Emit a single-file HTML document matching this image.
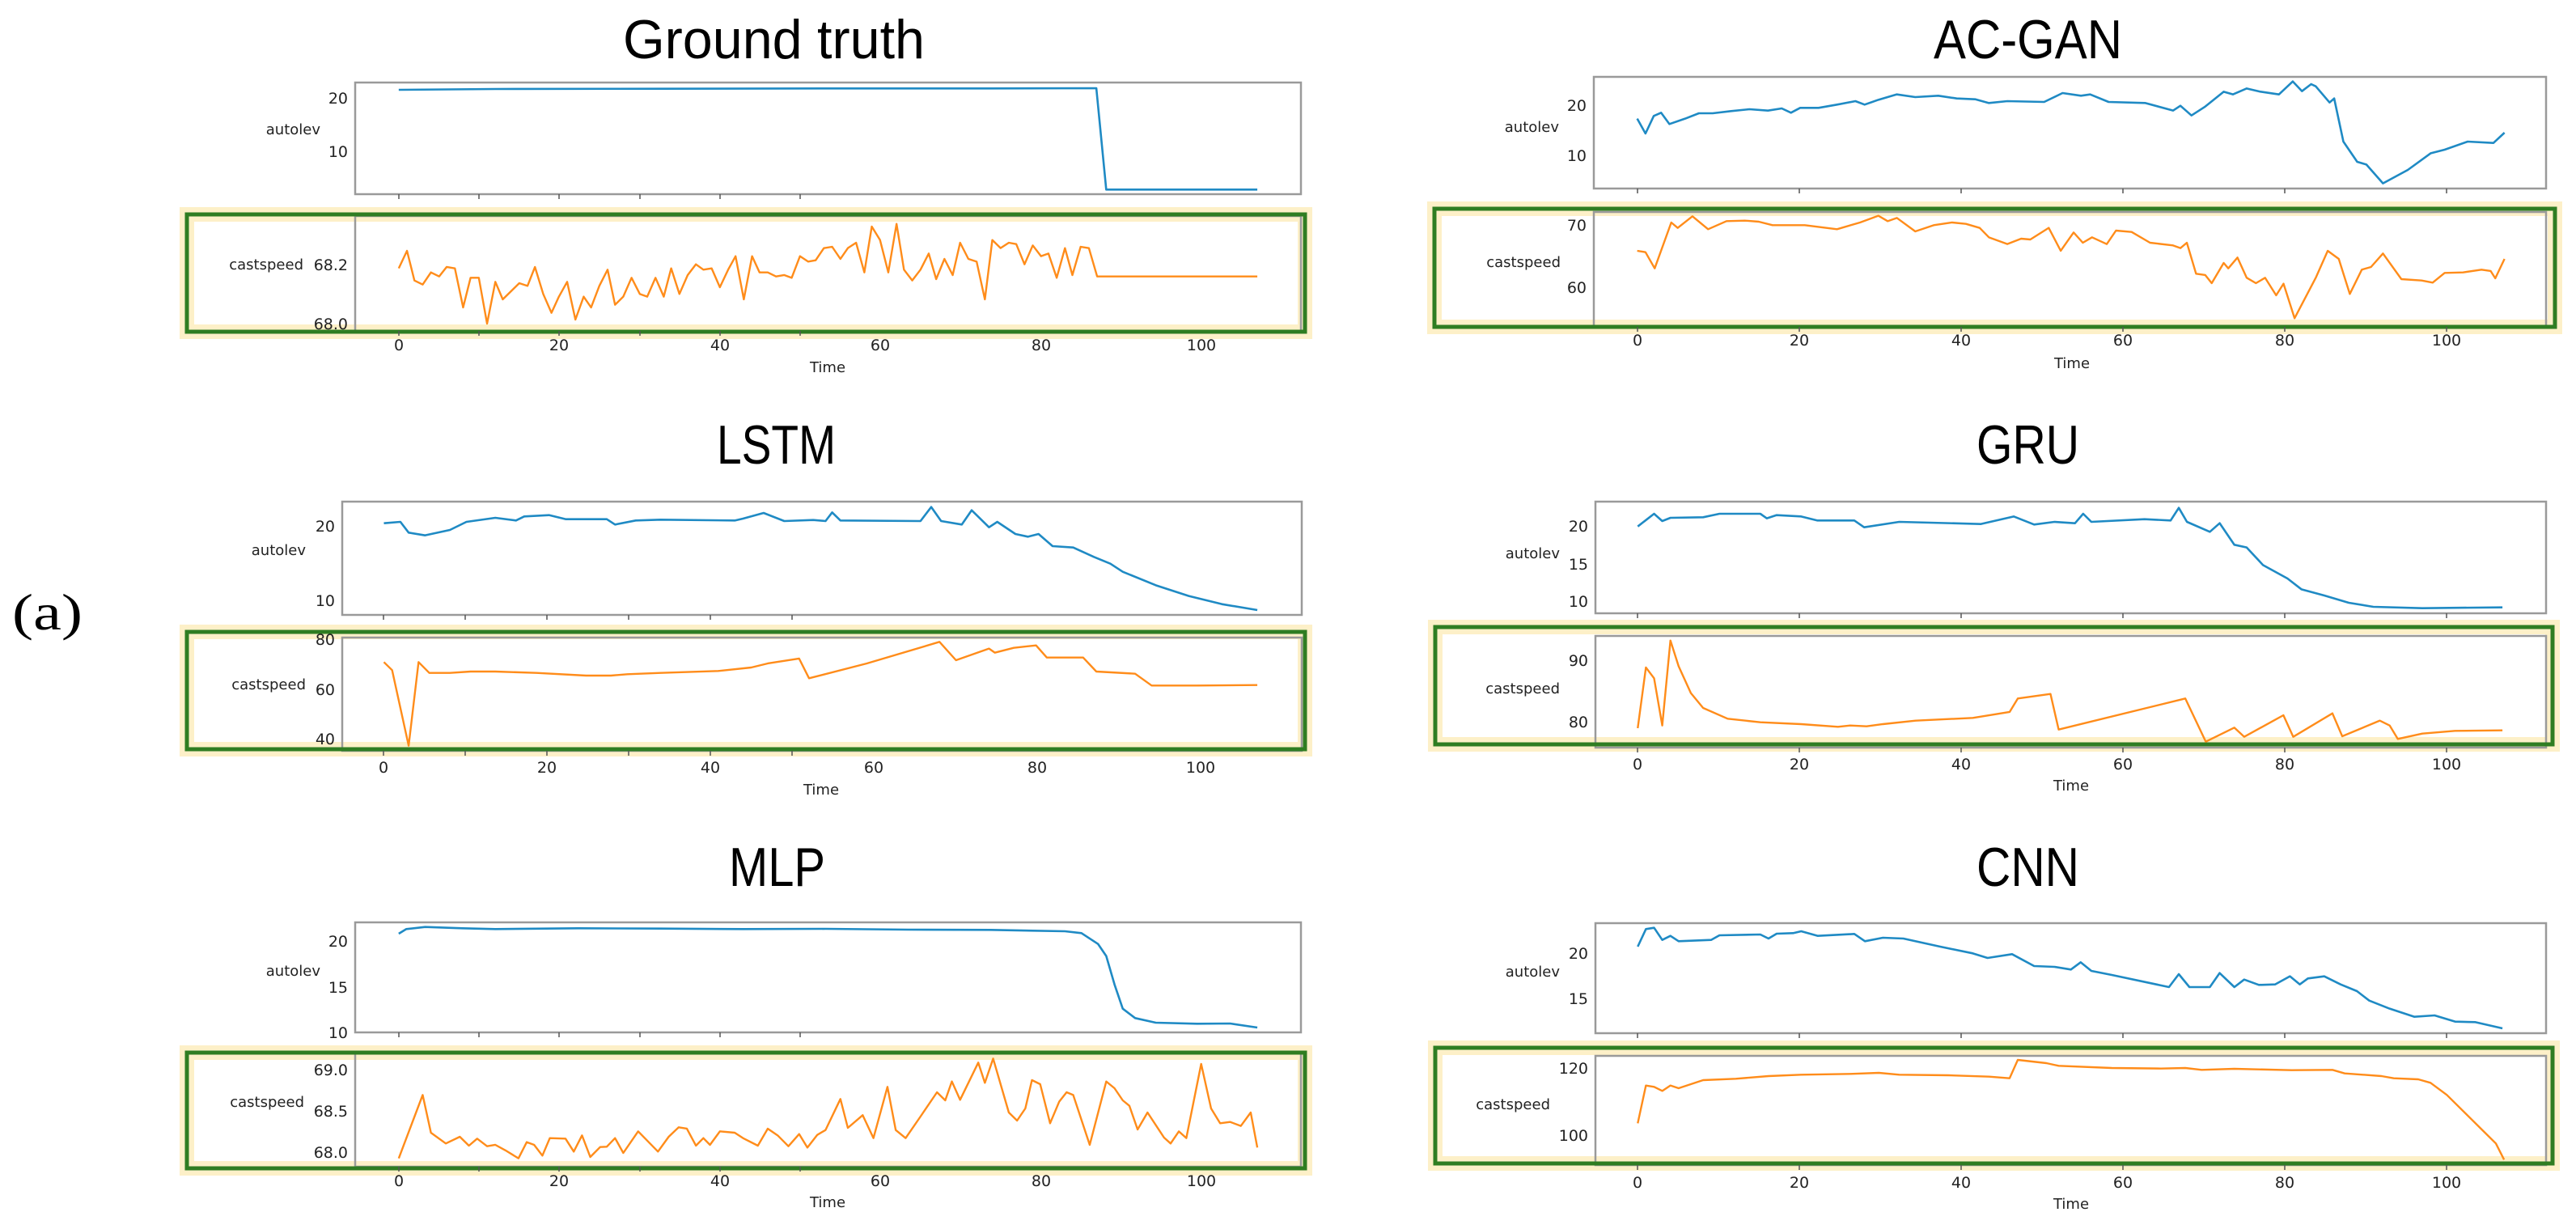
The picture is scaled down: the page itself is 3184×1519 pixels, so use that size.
<!DOCTYPE html>
<html><head><meta charset="utf-8"><style>
html,body{margin:0;padding:0;background:#fff}
svg{display:block}
.b{fill:none;stroke:#1f8ac4;stroke-width:2.6;vector-effect:non-scaling-stroke;stroke-linejoin:round}
.o{fill:none;stroke:#ff8c1a;stroke-width:2.4;vector-effect:non-scaling-stroke;stroke-linejoin:round}
.ax{fill:none;stroke:#9a9a9a;stroke-width:2.5}
.gl{fill:none;stroke:#fdf0c8;stroke-width:18}
.gr{fill:none;stroke:#2f7d22;stroke-width:5}
.t{font-family:"Liberation Sans",sans-serif;fill:#000}
.tk{font-family:"DejaVu Sans",sans-serif;font-size:19px;fill:#222}
.lb{font-family:"DejaVu Sans",sans-serif;font-size:18px;fill:#222}
.tm{stroke:#555;stroke-width:1.5}
</style></head><body>
<svg width="3184" height="1519" viewBox="0 0 3184 1519" xmlns="http://www.w3.org/2000/svg">
<rect width="3184" height="1519" fill="#fff"/>

<!-- green highlight boxes -->
<rect class="gl" x="231" y="265" width="1382" height="145"/>
<rect class="gl" x="231" y="781" width="1382" height="145"/>
<rect class="gl" x="231" y="1301" width="1382" height="143"/>
<rect class="gl" x="1773" y="258" width="1385" height="146"/>
<rect class="gl" x="1774" y="775" width="1381" height="145"/>
<rect class="gl" x="1774" y="1295" width="1381" height="143"/>
<rect x="241" y="275" width="1362" height="125" fill="#fff"/>
<rect x="241" y="791" width="1362" height="125" fill="#fff"/>
<rect x="241" y="1311" width="1362" height="123" fill="#fff"/>
<rect x="1783" y="268" width="1365" height="126" fill="#fff"/>
<rect x="1784" y="785" width="1361" height="125" fill="#fff"/>
<rect x="1784" y="1305" width="1361" height="123" fill="#fff"/>

<!-- axes frames -->
<rect class="ax" x="439" y="102" width="1169" height="138"/>
<rect class="ax" x="439" y="267" width="1169" height="142"/>
<rect class="ax" x="423" y="620" width="1186" height="140"/>
<rect class="ax" x="423" y="788" width="1186" height="140"/>
<rect class="ax" x="439" y="1140" width="1169" height="136"/>
<rect class="ax" x="439" y="1302" width="1169" height="140"/>
<rect class="ax" x="1970" y="95" width="1177" height="138"/>
<rect class="ax" x="1970" y="262" width="1177" height="142"/>
<rect class="ax" x="1972" y="620" width="1175" height="138"/>
<rect class="ax" x="1972" y="786" width="1175" height="138"/>
<rect class="ax" x="1972" y="1141" width="1175" height="136"/>
<rect class="ax" x="1972" y="1305" width="1175" height="135"/>

<rect class="gr" x="231" y="265" width="1382" height="145"/>
<rect class="gr" x="231" y="781" width="1382" height="145"/>
<rect class="gr" x="231" y="1301" width="1382" height="143"/>
<rect class="gr" x="1773" y="258" width="1385" height="146"/>
<rect class="gr" x="1774" y="775" width="1381" height="145"/>
<rect class="gr" x="1774" y="1295" width="1381" height="143"/>

<!-- Ground truth -->
<g transform="scale(1.0204,0.33333)">
<polyline class="b" points="483,333 600,330 800,329 1000,328 1200,328 1328,327 1340,703 1523,703"/>
<polyline class="o" points="483,995 493,930 502,1040 512,1055 522,1010 532,1025 541,990 551,995 561,1140 570,1030 580,1030 590,1200 600,1045 609,1110 619,1080 629,1050 639,1060 648,990 658,1090 668,1160 677,1100 687,1045 697,1185 707,1100 716,1140 726,1060 736,1000 745,1130 755,1100 765,1030 775,1090 784,1100 794,1030 804,1100 813,995 823,1090 833,1020 843,980 852,1000 862,995 872,1065 882,1000 891,950 901,1110 911,950 920,1010 930,1010 940,1025 950,1020 959,1030 969,950 979,970 988,965 998,920 1008,915 1018,960 1027,920 1037,900 1047,1010 1056,840 1066,890 1076,1010 1086,830 1095,1000 1105,1040 1115,1000 1125,940 1134,1035 1144,960 1154,1020 1163,900 1173,960 1183,970 1193,1110 1202,890 1212,920 1222,900 1231,905 1241,980 1251,910 1261,950 1270,940 1280,1030 1290,920 1299,1020 1309,915 1319,920 1329,1025 1523,1025"/>
</g>
<!-- AC-GAN -->
<g transform="translate(1400,0) scale(1.138,0.33333)">
<polyline class="b" points="548,440 557,495 566,430 574,418 583,460 600,440 615,420 630,420 650,412 670,405 690,410 705,402 715,418 725,400 745,400 765,388 785,375 795,388 810,370 830,350 850,360 875,355 895,365 915,368 930,382 950,375 990,378 1010,345 1030,355 1040,350 1060,378 1100,382 1130,410 1138,392 1150,428 1165,395 1185,340 1195,350 1210,328 1225,340 1245,350 1260,302 1270,338 1280,312 1285,320 1300,380 1305,365 1315,525 1330,600 1340,610 1358,680 1385,630 1410,568 1425,555 1450,525 1478,530 1490,492"/>
<polyline class="o" points="548,930 557,935 567,995 585,825 592,845 608,802 625,850 645,820 665,818 680,822 695,835 730,835 765,850 790,825 810,800 820,820 830,808 850,858 870,835 890,825 905,830 920,845 930,880 950,905 965,885 975,888 995,845 1008,930 1022,862 1032,900 1042,880 1058,905 1068,855 1085,860 1105,900 1130,910 1138,920 1145,900 1155,1015 1165,1020 1172,1050 1185,975 1190,995 1200,955 1210,1030 1220,1050 1230,1030 1242,1095 1250,1052 1262,1180 1285,1030 1298,930 1310,960 1322,1090 1335,1000 1345,990 1358,940 1378,1035 1400,1040 1412,1048 1425,1012 1445,1010 1465,1000 1475,1005 1480,1032 1490,960"/>
</g>
<!-- LSTM -->
<g transform="translate(0,480) scale(1.0204,0.33333)">
<polyline class="b" points="465,500 485,495 495,535 515,545 545,525 565,495 600,480 625,490 635,475 665,470 685,485 735,485 745,505 770,490 800,487 890,490 900,483 925,462 950,492 985,488 1000,492 1008,460 1018,490 1115,492 1128,440 1140,492 1165,505 1177,452 1198,515 1208,495 1230,540 1245,550 1258,540 1275,585 1300,590 1325,625 1345,650 1360,680 1400,730 1440,770 1480,800 1523,822"/>
<polyline class="o" points="465,1015 475,1045 495,1325 507,1015 520,1055 545,1055 570,1050 600,1050 650,1055 710,1065 740,1065 760,1060 800,1055 870,1048 910,1035 930,1020 968,1002 980,1075 1050,1020 1138,940 1158,1008 1198,965 1205,980 1228,962 1255,953 1268,998 1312,998 1328,1050 1375,1058 1395,1102 1450,1102 1523,1100"/>
</g>
<!-- MLP -->
<g transform="translate(0,990) scale(1.0204,0.33333)">
<polyline class="b" points="483,492 492,475 515,467 560,472 600,475 700,472 800,473 900,475 1000,474 1100,477 1200,478 1290,483 1310,490 1330,530 1340,575 1350,680 1360,770 1375,805 1400,822 1450,826 1490,825 1523,840"/>
<polyline class="o" points="483,1325 512,1090 522,1230 540,1270 557,1245 568,1278 578,1252 590,1280 600,1275 612,1295 628,1325 638,1265 647,1275 657,1315 666,1250 685,1252 695,1300 705,1240 715,1320 727,1283 735,1282 745,1250 755,1305 773,1225 797,1300 810,1245 822,1210 832,1215 843,1278 852,1250 860,1275 872,1225 890,1230 900,1250 918,1278 930,1215 942,1240 955,1280 968,1235 978,1285 990,1238 1000,1220 1018,1105 1027,1212 1045,1165 1058,1250 1075,1060 1085,1220 1097,1250 1115,1170 1135,1080 1145,1110 1153,1040 1163,1108 1185,970 1193,1045 1203,955 1222,1155 1232,1185 1242,1140 1250,1035 1260,1050 1272,1195 1283,1115 1292,1080 1300,1090 1320,1275 1340,1040 1350,1065 1360,1110 1368,1130 1378,1218 1390,1155 1410,1248 1418,1270 1428,1225 1437,1250 1455,975 1467,1140 1478,1195 1490,1190 1503,1205 1515,1155 1523,1285"/>
</g>
<!-- GRU -->
<g transform="translate(1600,480) scale(1.0102,0.33333)">
<polyline class="b" points="420,512 440,465 450,492 460,480 500,478 520,465 570,465 578,482 590,470 620,475 640,490 685,490 697,515 740,495 840,503 880,475 905,505 930,495 955,500 965,465 975,495 1040,485 1072,490 1082,443 1092,495 1120,532 1132,500 1150,580 1165,590 1185,655 1215,705 1232,745 1260,768 1290,795 1320,810 1380,815 1478,812"/>
<polyline class="o" points="420,1260 430,1035 440,1075 450,1250 460,935 470,1030 485,1130 500,1185 530,1225 570,1238 620,1245 665,1255 680,1250 700,1253 720,1245 760,1232 830,1222 875,1200 885,1150 925,1133 935,1265 1090,1150 1115,1310 1150,1258 1162,1292 1210,1212 1222,1292 1270,1205 1282,1290 1328,1232 1340,1250 1350,1300 1380,1280 1420,1270 1478,1268"/>
</g>
<!-- CNN -->
<g transform="translate(1600,990) scale(1.0102,0.33333)">
<polyline class="b" points="420,540 430,475 440,470 450,515 460,500 470,520 510,515 520,498 570,495 580,510 590,492 610,490 620,483 640,500 685,493 698,520 720,507 745,510 790,540 830,565 848,582 878,568 905,612 930,615 950,625 962,598 975,630 1000,645 1070,690 1082,642 1095,690 1120,690 1132,638 1150,690 1162,662 1180,682 1200,680 1218,650 1230,680 1240,658 1260,650 1280,680 1300,705 1315,740 1340,770 1370,800 1395,795 1420,818 1445,820 1478,843"/>
<polyline class="o" points="420,1195 430,1055 440,1060 450,1075 460,1055 470,1065 500,1035 540,1030 580,1020 620,1015 680,1012 715,1008 740,1015 800,1017 850,1022 875,1028 885,960 920,972 935,982 1000,990 1060,992 1090,990 1110,997 1150,993 1220,998 1270,997 1285,1010 1330,1020 1345,1028 1375,1032 1390,1045 1410,1090 1440,1180 1470,1270 1480,1330"/>
</g>

<!-- titles -->
<text class="t" x="770" y="72" font-size="68" textLength="373" lengthAdjust="spacingAndGlyphs">Ground truth</text>
<text class="t" x="2390" y="72" font-size="68" textLength="233" lengthAdjust="spacingAndGlyphs">AC-GAN</text>
<text class="t" x="886" y="573" font-size="68" textLength="147" lengthAdjust="spacingAndGlyphs">LSTM</text>
<text class="t" x="2443" y="573" font-size="68" textLength="127" lengthAdjust="spacingAndGlyphs">GRU</text>
<text class="t" x="901" y="1095" font-size="68" textLength="119" lengthAdjust="spacingAndGlyphs">MLP</text>
<text class="t" x="2443" y="1095" font-size="68" textLength="127" lengthAdjust="spacingAndGlyphs">CNN</text>
<text x="15" y="778" font-family="Liberation Serif,serif" font-size="64" textLength="87" lengthAdjust="spacingAndGlyphs">(a)</text>

<!-- y labels -->
<g class="lb" text-anchor="end">
<text x="396" y="166">autolev</text><text x="375" y="333">castspeed</text>
<text x="378" y="686">autolev</text><text x="378" y="852">castspeed</text>
<text x="396" y="1206">autolev</text><text x="376" y="1368">castspeed</text>
<text x="1927" y="163">autolev</text><text x="1929" y="330">castspeed</text>
<text x="1928" y="690">autolev</text><text x="1928" y="857">castspeed</text>
<text x="1928" y="1207">autolev</text><text x="1916" y="1371">castspeed</text>
</g>

<!-- y tick labels -->
<g class="tk" text-anchor="end">
<text x="430" y="128">20</text><text x="430" y="194">10</text>
<text x="430" y="334">68.2</text><text x="430" y="407">68.0</text>
<text x="414" y="657">20</text><text x="414" y="749">10</text>
<text x="414" y="797">80</text><text x="414" y="859">60</text><text x="414" y="920">40</text>
<text x="430" y="1170">20</text><text x="430" y="1227">15</text><text x="430" y="1283">10</text>
<text x="430" y="1329">69.0</text><text x="430" y="1380">68.5</text><text x="430" y="1431">68.0</text>
<text x="1961" y="137">20</text><text x="1961" y="199">10</text>
<text x="1961" y="285">70</text><text x="1961" y="362">60</text>
<text x="1963" y="657">20</text><text x="1963" y="704">15</text><text x="1963" y="750">10</text>
<text x="1963" y="823">90</text><text x="1963" y="899">80</text>
<text x="1963" y="1185">20</text><text x="1963" y="1241">15</text>
<text x="1963" y="1327">120</text><text x="1963" y="1410">100</text>
</g>

<!-- x ticks -->
<g class="tm">
<path d="M493 240v6M592 240v6M691 240v6M791 240v6M890 240v6M989 240v6M493 409v6M592 409v6M691 409v6M791 409v6M890 409v6M989 409v6"/>
<path d="M474 760v6M575 760v6M676 760v6M777 760v6M878 760v6M979 760v6M474 928v6M575 928v6M676 928v6M777 928v6M878 928v6M979 928v6"/>
<path d="M493 1276v6M592 1276v6M691 1276v6M791 1276v6M890 1276v6M989 1276v6M493 1442v6M592 1442v6M691 1442v6M791 1442v6M890 1442v6M989 1442v6"/>
<path d="M2024 233v6M2224 233v6M2424 233v6M2624 233v6M2824 233v6M3024 233v6M2024 404v6M2224 404v6M2424 404v6M2624 404v6M2824 404v6M3024 404v6"/>
<path d="M2024 758v6M2224 758v6M2424 758v6M2624 758v6M2824 758v6M3024 758v6M2024 924v6M2224 924v6M2424 924v6M2624 924v6M2824 924v6M3024 924v6"/>
<path d="M2024 1277v6M2224 1277v6M2424 1277v6M2624 1277v6M2824 1277v6M3024 1277v6M2024 1440v6M2224 1440v6M2424 1440v6M2624 1440v6M2824 1440v6M3024 1440v6"/>
</g>

<!-- x tick labels -->
<g class="tk" text-anchor="middle">
<text x="493" y="433">0</text><text x="691" y="433">20</text><text x="890" y="433">40</text><text x="1088" y="433">60</text><text x="1287" y="433">80</text><text x="1485" y="433">100</text>
<text x="474" y="955">0</text><text x="676" y="955">20</text><text x="878" y="955">40</text><text x="1080" y="955">60</text><text x="1282" y="955">80</text><text x="1484" y="955">100</text>
<text x="493" y="1466">0</text><text x="691" y="1466">20</text><text x="890" y="1466">40</text><text x="1088" y="1466">60</text><text x="1287" y="1466">80</text><text x="1485" y="1466">100</text>
<text x="2024" y="427">0</text><text x="2224" y="427">20</text><text x="2424" y="427">40</text><text x="2624" y="427">60</text><text x="2824" y="427">80</text><text x="3024" y="427">100</text>
<text x="2024" y="951">0</text><text x="2224" y="951">20</text><text x="2424" y="951">40</text><text x="2624" y="951">60</text><text x="2824" y="951">80</text><text x="3024" y="951">100</text>
<text x="2024" y="1468">0</text><text x="2224" y="1468">20</text><text x="2424" y="1468">40</text><text x="2624" y="1468">60</text><text x="2824" y="1468">80</text><text x="3024" y="1468">100</text>
</g>
<g class="lb" text-anchor="middle">
<text x="1023" y="460">Time</text><text x="2561" y="455">Time</text>
<text x="1015" y="982">Time</text><text x="2560" y="977">Time</text>
<text x="1023" y="1492">Time</text><text x="2560" y="1494">Time</text>
</g>
</svg>
</body></html>
